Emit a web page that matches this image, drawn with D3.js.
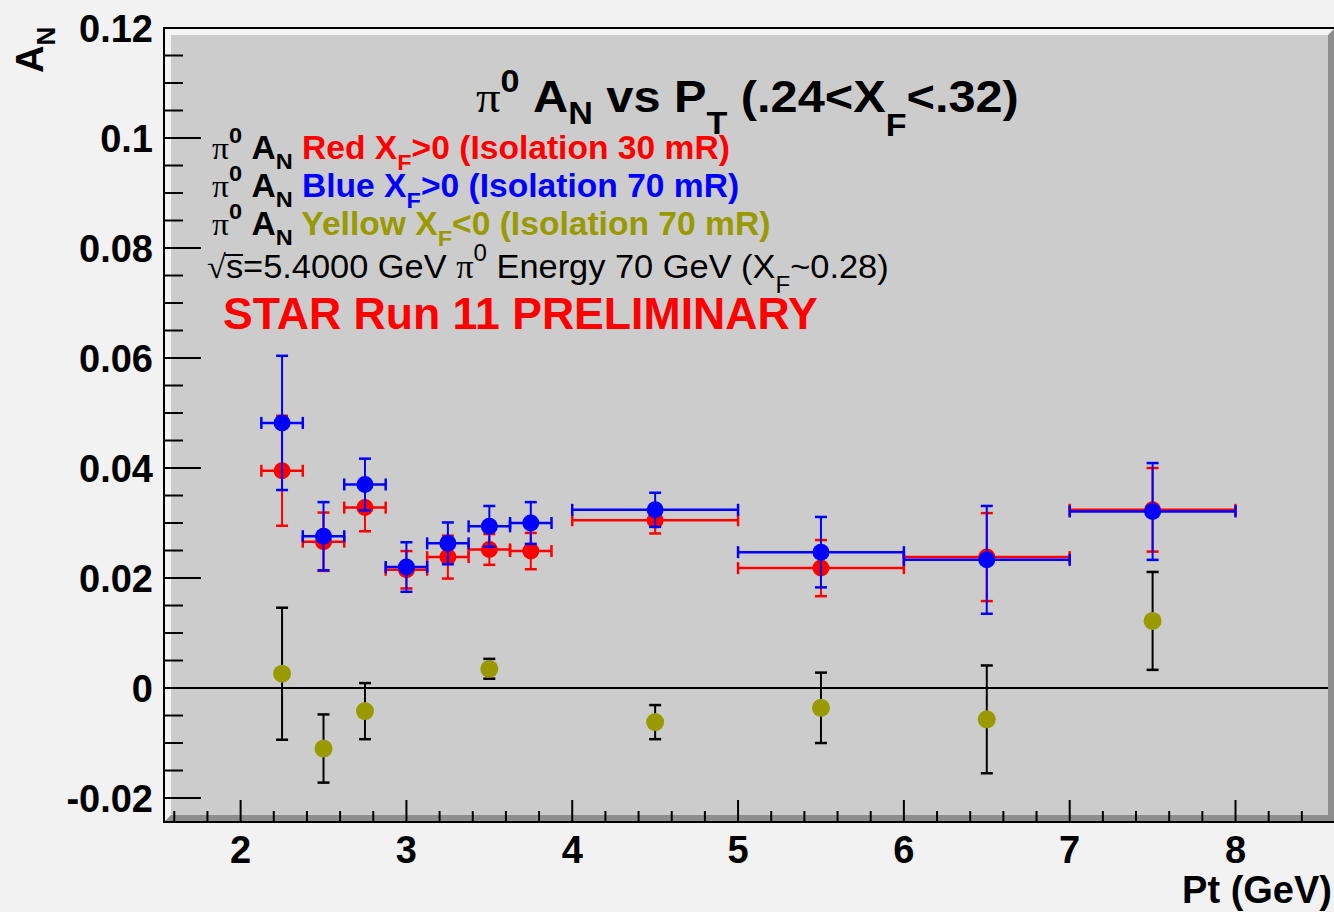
<!DOCTYPE html>
<html>
<head>
<meta charset="utf-8">
<script src="https://d3js.org/d3.v7.min.js"></script>
<style>
  html, body { margin:0; padding:0; background:#f2f2f2; }
  svg { display:block; }
</style>
</head>
<body>
<script>

var width = 1334;
var height = 912;
var SANS = "'Liberation Sans', Arial, Helvetica, sans-serif";
var SERIF = "'Liberation Serif', 'Times New Roman', serif";

// pT bins (GeV) and their half widths, shared by the red and blue sets
var ptBins      = [2.25, 2.5, 2.75, 3.0, 3.25, 3.5, 3.75, 4.5, 5.5, 6.5, 7.5];
var ptHalfWidth = [0.125, 0.125, 0.125, 0.125, 0.125, 0.125, 0.125, 0.5, 0.5, 0.5, 0.5];

// Red, xF>0, isolation 30 mR
var redAN  = [0.0395, 0.0266, 0.0328, 0.0215, 0.0238, 0.0252, 0.0249, 0.0305, 0.0218, 0.0238, 0.0324];
var redErr = [0.0100, 0.0053, 0.0043, 0.0034, 0.0039, 0.0028, 0.0033, 0.0024, 0.0051, 0.0080, 0.0076];

// Blue, xF>0, isolation 70 mR
var blueAN  = [0.0482, 0.0276, 0.0370, 0.0220, 0.0263, 0.0294, 0.0300, 0.0324, 0.0247, 0.0233, 0.0321];
var blueErr = [0.0122, 0.0062, 0.0047, 0.0045, 0.0038, 0.0037, 0.0038, 0.0031, 0.0064, 0.0098, 0.0088];

// Yellow, xF<0, isolation 70 mR (no pT error bars)
var yellowPt  = [2.25, 2.5, 2.75, 3.5, 4.5, 5.5, 6.5, 7.5];
var yellowAN  = [0.0026, -0.0110, -0.0042, 0.0035, -0.0062, -0.0036, -0.0057, 0.0122];
var yellowErr = [0.0120, 0.0062, 0.0051, 0.0018, 0.0031, 0.0064, 0.0098, 0.0089];

// axis ticks
var xMajor = [2, 3, 4, 5, 6, 7, 8];
var yMajor = [-0.02, 0, 0.02, 0.04, 0.06, 0.08, 0.1, 0.12];
var yLabels = ["-0.02", "0", "0.02", "0.04", "0.06", "0.08", "0.1", "0.12"];

var frame = {left:164, top:28, right:1335, bottom:822, bevel:7};

var x = d3.scaleLinear().domain([1.538, 8.6]).range([frame.left, frame.right]);
var y = d3.scaleLinear().domain([-0.02436, 0.12]).range([frame.bottom, frame.top]);

var svg = d3.select("body").append("svg")
    .attr("width", width)
    .attr("height", height);

// frame: light bevel on top/left, dark bevel on bottom/right, grey inside
var L = frame.left, T = frame.top, R = frame.right, B = frame.bottom, bv = frame.bevel;
svg.append("rect").attr("x", L).attr("y", T).attr("width", R - L).attr("height", B - T)
    .attr("fill", "#f4f4f4");
svg.append("polygon")
    .attr("points", [[L, B], [L + bv, B - bv], [R - bv, B - bv], [R - bv, T + bv], [R, T], [R, B]].join(" "))
    .attr("fill", "#8e8e8e");
svg.append("rect").attr("x", L + bv).attr("y", T + bv).attr("width", R - L - 2 * bv).attr("height", B - T - 2 * bv)
    .attr("fill", "#cccccc");
svg.append("path")
    .attr("d", "M" + R + "," + T + "H" + L + "V" + B + "H" + R)
    .attr("fill", "none").attr("stroke", "#000").attr("stroke-width", 2);

// zero line
svg.append("line")
    .attr("x1", L + bv).attr("x2", R - bv)
    .attr("y1", y(0)).attr("y2", y(0))
    .attr("stroke", "#000").attr("stroke-width", 2);

// x axis ticks (pointing up)
var xMinor = d3.range(16, 87, 2).map(function(d) { return d / 10; })
    .filter(function(d) { return d > 1.54 && d < 8.6 && Math.abs(d - Math.round(d)) > 0.01; });
var xAxis = svg.append("g");
xAxis.selectAll("line.minor").data(xMinor).enter().append("line")
    .attr("x1", d => x(d)).attr("x2", d => x(d))
    .attr("y1", B).attr("y2", B - 11)
    .attr("stroke", "#000").attr("stroke-width", 2);
xAxis.selectAll("line.major").data(xMajor).enter().append("line")
    .attr("x1", d => x(d)).attr("x2", d => x(d))
    .attr("y1", B).attr("y2", B - 22)
    .attr("stroke", "#000").attr("stroke-width", 2);
xAxis.selectAll("text").data(xMajor).enter().append("text")
    .attr("x", d => x(d)).attr("y", 863)
    .attr("text-anchor", "middle")
    .attr("font-family", SANS).attr("font-weight", "bold").attr("font-size", 38)
    .text(d => d);

svg.append("text")
    .attr("x", 1332).attr("y", 903)
    .attr("text-anchor", "end")
    .attr("font-family", SANS).attr("font-weight", "bold").attr("font-size", 38)
    .text("Pt (GeV)");

// y axis ticks (pointing right)
var yMinor = d3.range(-20, 121, 5).map(function(d) { return d / 1000; })
    .filter(function(d) { return Math.round(d * 1000) % 20 !== 0; });
var yAxis = svg.append("g");
yAxis.selectAll("line.minor").data(yMinor).enter().append("line")
    .attr("x1", L).attr("x2", L + 19)
    .attr("y1", d => y(d)).attr("y2", d => y(d))
    .attr("stroke", "#000").attr("stroke-width", 2);
yAxis.selectAll("line.major").data(yMajor).enter().append("line")
    .attr("x1", L).attr("x2", L + 37)
    .attr("y1", d => y(d)).attr("y2", d => y(d))
    .attr("stroke", "#000").attr("stroke-width", 2);
yAxis.selectAll("text").data(yMajor).enter().append("text")
    .attr("x", 153).attr("y", d => y(d))
    .attr("dy", "0.36em")
    .attr("text-anchor", "end")
    .attr("font-family", SANS).attr("font-weight", "bold").attr("font-size", 38)
    .text((d, i) => yLabels[i]);

// y title A_N, rotated
var yt = svg.append("text")
    .attr("transform", "translate(43,73) rotate(-90)")
    .attr("font-family", SANS).attr("font-weight", "bold").attr("font-size", 38);
yt.append("tspan").text("A");
yt.append("tspan").attr("dy", 12).attr("font-size", 26).text("N");

// error bars + markers
function drawSet(pts, vals, errs, halfW, color, barColor, r) {
  var g = svg.append("g");
  var data = pts.map(function(p, i) { return {pt:p, v:vals[i], e:errs[i], hw:halfW ? halfW[i] : 0}; });
  var cap = 6;
  data.forEach(function(d) {
    var cx = x(d.pt), cy = y(d.v);
    var y1 = y(d.v + d.e), y2 = y(d.v - d.e);
    g.append("line").attr("x1", cx).attr("x2", cx).attr("y1", y1).attr("y2", y2)
        .attr("stroke", barColor).attr("stroke-width", 2);
    [y1, y2].forEach(function(yy) {
      g.append("line").attr("x1", cx - cap).attr("x2", cx + cap).attr("y1", yy).attr("y2", yy)
          .attr("stroke", barColor).attr("stroke-width", 2.5);
    });
    if (d.hw) {
      var x1 = x(d.pt - d.hw), x2 = x(d.pt + d.hw);
      g.append("line").attr("x1", x1).attr("x2", x2).attr("y1", cy).attr("y2", cy)
          .attr("stroke", barColor).attr("stroke-width", 2.5);
      [x1, x2].forEach(function(xx) {
        g.append("line").attr("x1", xx).attr("x2", xx).attr("y1", cy - cap).attr("y2", cy + cap)
            .attr("stroke", barColor).attr("stroke-width", 2.5);
      });
    }
  });
  g.selectAll("circle").data(data).enter().append("circle")
      .attr("cx", d => x(d.pt)).attr("cy", d => y(d.v)).attr("r", r)
      .attr("fill", color);
}

drawSet(ptBins, redAN, redErr, ptHalfWidth, "#ff0000", "#ff0000", 8.5);
drawSet(ptBins, blueAN, blueErr, ptHalfWidth, "#0000ff", "#0000ff", 8.5);
drawSet(yellowPt, yellowAN, yellowErr, null, "#999900", "#000000", 9);

// rich text helper: parts with sub/sup/serif, inside its own group
function richText(px, py, size, weight, fill, parts) {
  var g = svg.append("g");
  var t = g.append("text")
      .attr("x", px).attr("y", py)
      .attr("font-family", SANS).attr("font-weight", weight)
      .attr("font-size", size).attr("fill", fill);
  var shift = 0;
  parts.forEach(function(p) {
    var s = t.append("tspan").text(p.t);
    var target = p.sup ? -size * (p.up || 0.45) : (p.sub ? size * (p.drop || 0.3) : 0);
    if (target - shift !== 0) s.attr("dy", target - shift);
    shift = target;
    if (p.sup || p.sub) s.attr("font-size", size * 0.7);
    if (p.serif) s.attr("font-family", SERIF).attr("font-weight", "normal");
    if (p.fill) s.attr("fill", p.fill);
  });
  return {g:g, t:t, x0:px};
}

// ROOT's Helvetica runs a little wider than Liberation Sans: stretch to the width seen
function stretchX(rt, sx) {
  rt.g.attr("transform", "translate(" + rt.x0 + ",0) scale(" + sx + ",1) translate(" + (-rt.x0) + ",0)");
}
function fitRight(rt, right) {
  var b = rt.t.node().getBBox();
  var sx = (right - rt.x0) / (b.x + b.width - rt.x0);
  stretchX(rt, sx);
  return sx;
}

// title
var title = richText(476, 112, 44, "bold", "#000", [
  {t:"\u03c0", serif:true}, {t:"0", sup:true}, {t:" A"}, {t:"N", sub:true, drop:0.28},
  {t:" vs P"}, {t:"T", sub:true, drop:0.5}, {t:" (.24<X"}, {t:"F", sub:true, drop:0.55}, {t:"<.32)"}
]);
fitRight(title, 1019);

// legend rows
var legendRows = [
  {label:"Red", cond:">0", iso:"(Isolation 30 mR)", color:"#ff0000", y:159},
  {label:"Blue", cond:">0", iso:"(Isolation 70 mR)", color:"#0000ff", y:197},
  {label:"Yellow", cond:"<0", iso:"(Isolation 70 mR)", color:"#999900", y:235}
];
var rowScale = null;
legendRows.forEach(function(r) {
  var rt = richText(212, r.y, 32.5, "bold", "#000", [
    {t:"\u03c0", serif:true}, {t:"0", sup:true, up:0.5}, {t:" A"}, {t:"N", sub:true, drop:0.3},
    {t:" " + r.label + " X", fill:r.color}, {t:"F", sub:true, drop:0.35, fill:r.color},
    {t:r.cond + " " + r.iso, fill:r.color}
  ]);
  if (rowScale === null) rowScale = fitRight(rt, 730);
  else stretchX(rt, rowScale);
});

// sqrt(s) line
var sq = richText(207, 278, 33, "normal", "#000", [
  {t:"\u221a", serif:true}, {t:"s=5.4000 GeV "}, {t:"\u03c0", serif:true}, {t:"0", sup:true, up:0.5},
  {t:" Energy 70 GeV (X"}, {t:"F", sub:true, drop:0.45}, {t:"~0.28)"}
]);
var sBox = sq.t.node().getExtentOfChar(1);
sq.g.append("line")
    .attr("x1", sBox.x - 1).attr("x2", sBox.x + sBox.width)
    .attr("y1", 255).attr("y2", 255)
    .attr("stroke", "#000").attr("stroke-width", 2);
fitRight(sq, 889);

var star = richText(223, 329, 44, "bold", "#ff0000", [{t:"STAR Run 11 PRELIMINARY"}]);
fitRight(star, 818);

</script>
</body>
</html>
